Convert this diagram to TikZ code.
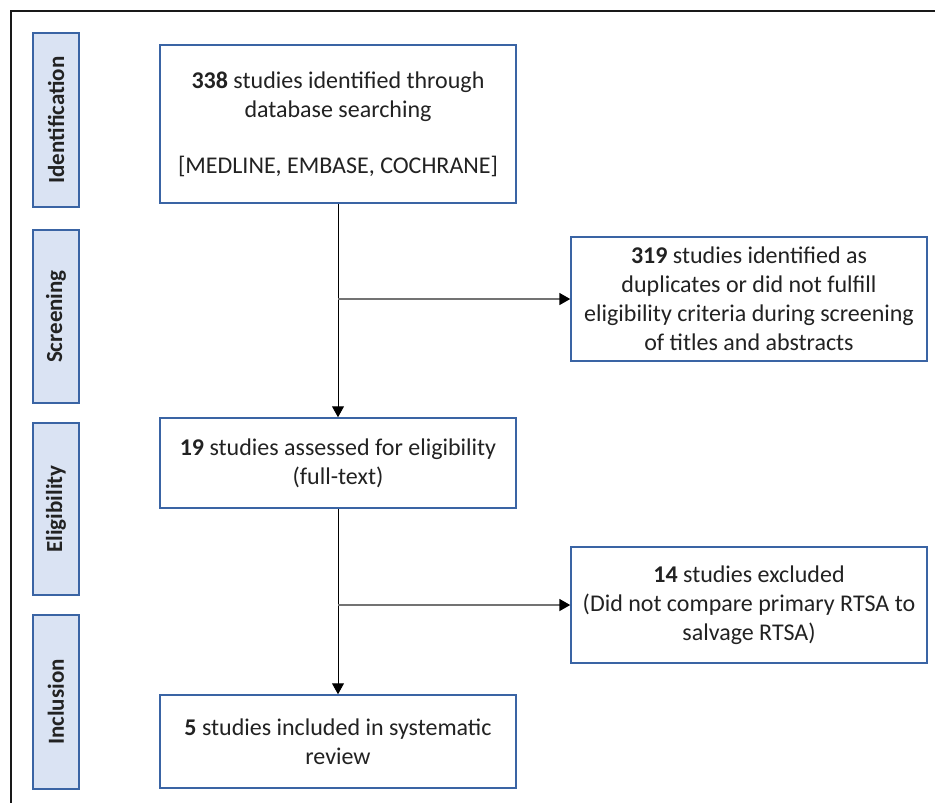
\documentclass[tikz,border=0pt]{standalone}
\usepackage{fontspec}
\setmainfont{Carlito}
\usetikzlibrary{arrows.meta}
\definecolor{boxblue}{HTML}{3A64A4}
\definecolor{fillblue}{HTML}{DAE3F3}
\definecolor{txt}{HTML}{222222}
\begin{document}
\begin{tikzpicture}[x=1pt,y=-1pt,
  mainbox/.style={draw=boxblue,line width=1.5pt,fill=white,inner sep=0pt,align=center,text=txt,font=\fontsize{24}{29}\selectfont},
  phase/.style={draw=boxblue,line width=1.5pt,fill=fillblue,inner sep=0pt},
  phasetext/.style={rotate=90,text=txt,font=\fontsize{23}{27}\selectfont\bfseries},
  flow/.style={line width=1pt,-{Triangle[length=11pt,width=12pt]}},
  branch/.style={draw=gray!90!black,line width=1.8pt,-{Triangle[length=11pt,width=12pt,color=black]}}]
\useasboundingbox (0,0) rectangle (935,803);
\draw[line width=2pt,black!90] (11,803) -- (11,11) -- (935,11);
% phase labels
\node[phase,minimum width=46pt,minimum height=174pt] (pid) at (56,120) {};
\node[phasetext] (tid) at (pid.center) {Identification};
\node[phase,minimum width=46pt,minimum height=173pt] (psc) at (56,316.5) {};
\node[phasetext] (tsc) at (psc.center) {Screening};
\node[phase,minimum width=46pt,minimum height=172pt] (pel) at (56,509) {};
\node[phasetext] (tel) at (pel.center) {Eligibility};
\node[phase,minimum width=46pt,minimum height=174pt] (pin) at (56,702) {};
\node[phasetext] (tin) at (pin.center) {Inclusion};
% main boxes
\node[mainbox,minimum width=356pt,minimum height=158pt] (b1) at (338,124) {\textbf{338} studies identified through\\database searching\\[27pt][MEDLINE, EMBASE, COCHRANE]};
\node[mainbox,minimum width=356pt,minimum height=124pt] (b2) at (749,299) {\textbf{319} studies identified as\\duplicates or did not fulfill\\eligibility criteria during screening\\of titles and abstracts};
\node[mainbox,minimum width=356pt,minimum height=90pt] (b3) at (338,463) {\textbf{19} studies assessed for eligibility\\(full-text)};
\node[mainbox,minimum width=356pt,minimum height=116pt] (b4) at (749,605) {\textbf{14} studies excluded\\(Did not compare primary RTSA to\\salvage RTSA)};
\node[mainbox,minimum width=356pt,minimum height=93pt] (b5) at (338,741.5) {\textbf{5} studies included in systematic\\review};
% connectors
\coordinate (j1) at (b1.south |- b2.west);
\coordinate (j2) at (b3.south |- b4.west);
\draw[flow] (b1.south) -- (b3.north);
\draw[flow] (b3.south) -- (b5.north);
\draw[branch] (j1) -- (b2.west);
\draw[branch] (j2) -- (b4.west);
\end{tikzpicture}
\end{document}
